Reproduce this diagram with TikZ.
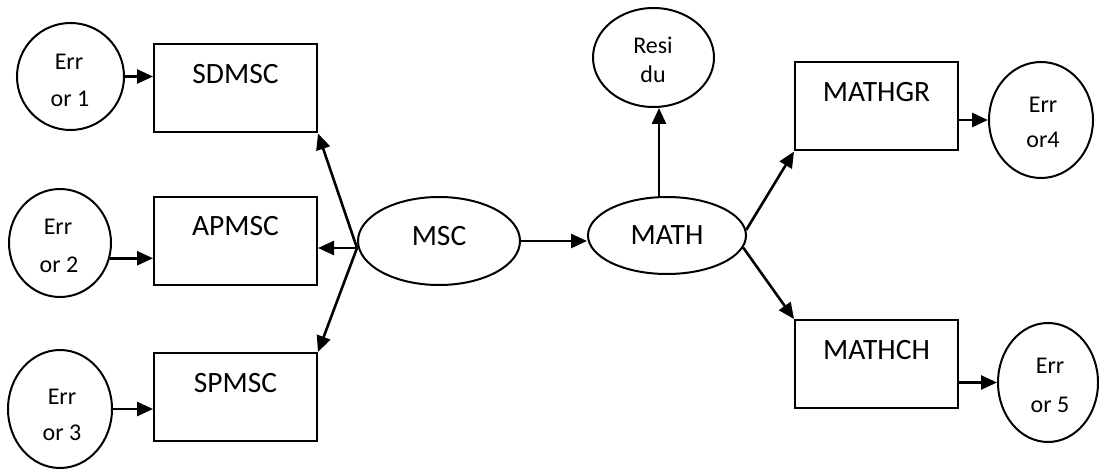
\documentclass[tikz,border=0pt]{standalone}
\usepackage{fontspec}
\setmainfont{Carlito}
\usetikzlibrary{arrows.meta,shapes.geometric}

\tikzset{
  boxnode/.style={draw, line width=2pt, rectangle, inner sep=0pt,
    minimum width=163pt, text height=39pt, text depth=49pt,
    font=\fontsize{29.5}{35}\selectfont},
  ovalnode/.style={draw, line width=2pt, ellipse, inner sep=0pt},
  bigtxt/.style={font=\fontsize{29.5}{35}\selectfont},
  smalltxt/.style={inner sep=0pt, anchor=base, font=\fontsize{24}{29}\selectfont},
  arr/.style={line width=2.6pt, -{Triangle[length=16pt,width=14pt]}},
}

\begin{document}
\begin{tikzpicture}[x=1pt,y=-1pt]
\useasboundingbox (0,0) rectangle (1099,470);

% boxes
\node[boxnode] (SDMSC)  at (235.5,88.5) {SDMSC};
\node[boxnode] (APMSC)  at (235.5,241)  {APMSC};
\node[boxnode] (SPMSC)  at (235.5,397)  {SPMSC};
\node[boxnode] (MATHGR) at (876.5,106.5) {MATHGR};
\node[boxnode] (MATHCH) at (876.5,364)  {MATHCH};

% central ellipses
\node[ovalnode, bigtxt, minimum width=162pt, minimum height=88pt,
      text height=18pt, text depth=8pt] (MSC) at (439,241) {MSC};
\node[ovalnode, bigtxt, minimum width=158pt, minimum height=77pt] (MATH) at (667,235.5) {MATH};

% error circles and the residual oval
\node[ovalnode, minimum width=107pt, minimum height=107pt] (E1) at (70.5,76.5) {};
\node[ovalnode, minimum width=102pt, minimum height=108pt] (E2) at (60,243) {};
\node[ovalnode, minimum width=104pt, minimum height=118pt] (E3) at (60,409) {};
\node[ovalnode, minimum width=104pt, minimum height=116pt] (E4) at (1041,120) {};
\node[ovalnode, minimum width=100pt, minimum height=119pt] (E5) at (1048,382.5) {};
\node[ovalnode, minimum width=121pt, minimum height=99pt] (Res) at (653.5,57.5) {};

% two-line labels inside the ovals
\node[smalltxt] (E1a) at (69,70)  {Err};
\node[smalltxt] (E1b) at (70,107) {or 1};
\node[smalltxt] (E2a) at (58,235) {Err};
\node[smalltxt] (E2b) at (59,272) {or 2};
\node[smalltxt] (E3a) at (62,404) {Err};
\node[smalltxt] (E3b) at (62,440) {or 3};
\node[smalltxt] (E4a) at (1043,113) {Err};
\node[smalltxt] (E4b) at (1043,148) {or4};
\node[smalltxt] (E5a) at (1050,373) {Err};
\node[smalltxt] (E5b) at (1050,412) {or 5};
\node[smalltxt] (Resa) at (653,54) {Resi};
\node[smalltxt] (Resb) at (653,83) {du};

% error inputs
\draw[arr] (E1.east) -- (E1.east -| SDMSC.west);
\draw[arr] (E2.-17) -- (E2.-17 -| APMSC.west);
\draw[arr] (E3.east) -- (E3.east -| SPMSC.west);
\draw[arr] (MATHGR.east |- E4.west) -- (E4.west);
\draw[arr] (MATHCH.east |- E5.west) -- (E5.west);

% MSC fan-out
\coordinate (mscl) at ([yshift=-7pt]MSC.west);
\draw[arr] (mscl) -- (SDMSC.south east);
\draw[arr] (mscl) -- (mscl -| APMSC.east);
\draw[arr] (mscl) -- (SPMSC.north east);

% MSC to MATH and onwards
\draw[arr] (MSC.east) -- (MSC.east -| MATH.west);
\draw[arr] ([xshift=-8pt]MATH.north) -- ([xshift=-8pt]MATH.north |- Res.south);
\draw[arr] (MATH.4) -- (MATHGR.south west);
\draw[arr] (MATH.-9) -- (MATHCH.north west);
\end{tikzpicture}
\end{document}
